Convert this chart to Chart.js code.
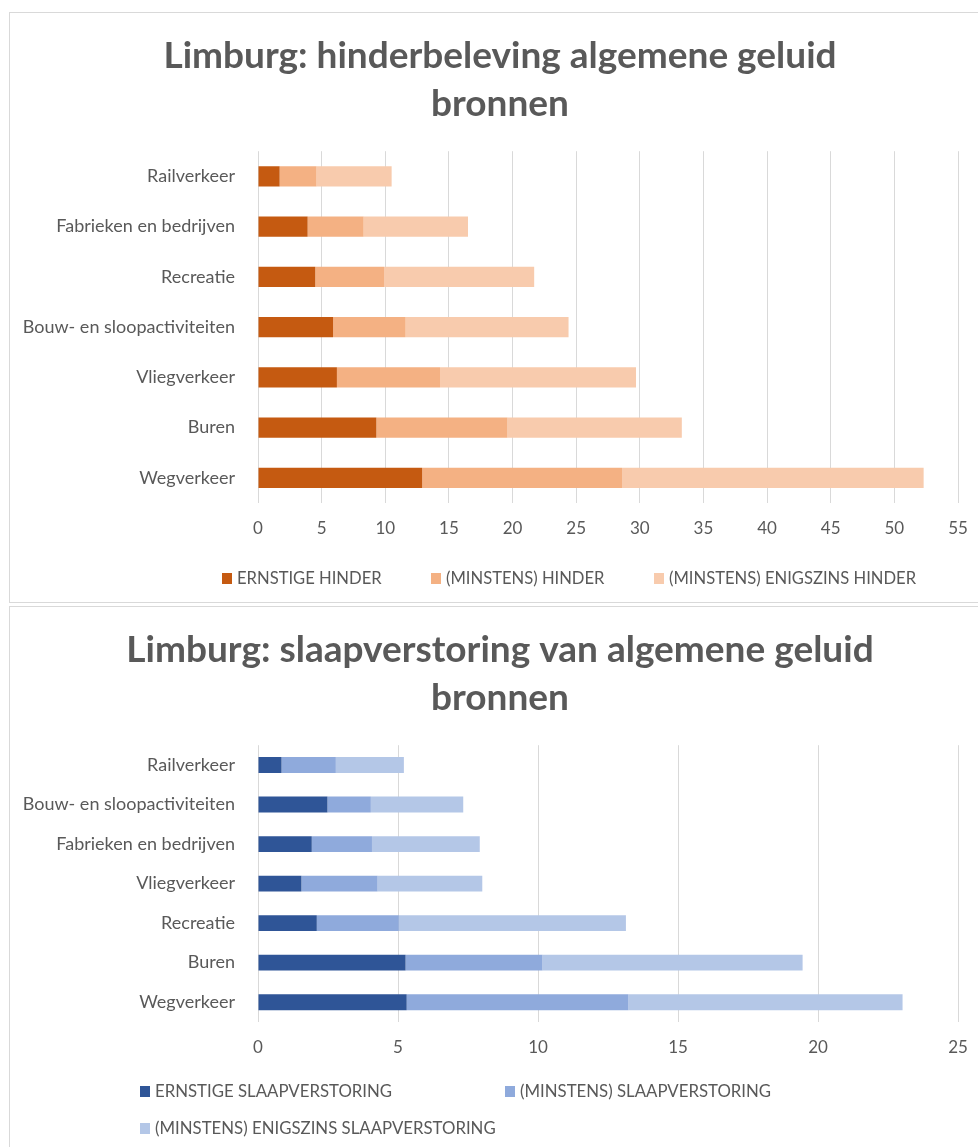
<!DOCTYPE html>
<html>
<head>
<meta charset="utf-8">
<script src="https://cdn.jsdelivr.net/npm/chart.js@4.4.0/dist/chart.umd.min.js"></script>
<style>
  body { margin: 0; background: #fff; overflow: hidden; }
  .box { position: absolute; left: 9px; width: 990px; border: 1px solid #D9D9D9; background: #fff; }
  #box1 { top: 12px; height: 589px; }
  #box2 { top: 606px; height: 560px; }
  canvas { position: absolute; left: 0; top: 0; }
</style>
</head>
<body>
<div class="box" id="box1"><canvas id="hinderChart" width="968" height="589"></canvas></div>
<div class="box" id="box2"><canvas id="slaapChart" width="968" height="540"></canvas></div>
<script>
//hinder data (top chart)
const hinderCats = ['Railverkeer', 'Fabrieken en bedrijven', 'Recreatie', 'Bouw- en sloopactiviteiten', 'Vliegverkeer', 'Buren', 'Wegverkeer'];
const ernstigeHinder = [1.7, 3.9, 4.5, 5.9, 6.2, 9.3, 12.9];
const minstensHinder = [2.9, 4.4, 5.4, 5.7, 8.1, 10.3, 15.7];
const enigszinsHinder = [5.9, 8.2, 11.8, 12.8, 15.4, 13.7, 23.7];
const hinderTicks = [0, 5, 10, 15, 20, 25, 30, 35, 40, 45, 50, 55];

//slaap data (bottom chart)
const slaapCats = ['Railverkeer', 'Bouw- en sloopactiviteiten', 'Fabrieken en bedrijven', 'Vliegverkeer', 'Recreatie', 'Buren', 'Wegverkeer'];
const ernstigeSlaap = [0.84, 2.48, 1.92, 1.55, 2.1, 5.27, 5.31];
const minstensSlaap = [1.94, 1.55, 2.15, 2.72, 2.93, 4.89, 7.92];
const enigszinsSlaap = [2.43, 3.3, 3.85, 3.74, 8.11, 9.29, 9.79];
const slaapTicks = [0, 5, 10, 15, 20, 25];

const textGrey = '#595959';
const gridGrey = '#D9D9D9';
const fontFam = 'Lato, "Open Sans", sans-serif';

//legend drawn in fixed columns, like the office chart
const colLegend = {
  id: 'colLegend',
  afterLayout(chart) {
    //title is centred on the whole frame, not only the padded part
    chart.titleBlock.left = 0;
    chart.titleBlock.right = 980;
  },
  afterDraw(chart, args, opts) {
    const ctx = chart.ctx;
    ctx.save();
    ctx.font = opts.size + 'px ' + fontFam;
    ctx.textBaseline = 'middle';
    chart.data.datasets.forEach((ds, i) => {
      const spot = opts.spots[i];
      const y = chart.chartArea.bottom + spot[1];
      ctx.fillStyle = ds.backgroundColor;
      ctx.fillRect(spot[0], y - 5, 10, 11);
      ctx.fillStyle = textGrey;
      ctx.fillText(ds.label, spot[0] + 15, y + 1);
    });
    ctx.restore();
  }
};

function makeConfig(title, cats, sets, ticks, bottomPad, spots, legendSize) {
  return {
    type: 'bar',
    data: {
      labels: cats,
      datasets: sets.map(s => ({
        label: s.label,
        data: s.data,
        backgroundColor: s.color,
        borderWidth: 0,
        barPercentage: 0.4,
        categoryPercentage: 1
      }))
    },
    options: {
      indexAxis: 'y',
      responsive: false,
      animation: false,
      layout: {
        padding: { left: 0, right: 20, top: 0, bottom: bottomPad }
      },
      scales: {
        x: {
          stacked: true,
          min: ticks[0],
          max: ticks[ticks.length - 1],
          afterBuildTicks: axis => { axis.ticks = ticks.map(v => ({ value: v })); },
          afterFit: axis => {
            axis.height = 40;
            axis.paddingLeft = 0;
            axis.paddingRight = 0;
          },
          grid: { color: gridGrey, lineWidth: 1, drawTicks: false },
          border: { display: false },
          ticks: { color: textGrey, padding: 15, font: { family: fontFam, size: 17 } }
        },
        y: {
          stacked: true,
          afterFit: axis => { axis.width = 248; },
          grid: { display: false, drawTicks: false },
          border: { display: false },
          ticks: { color: textGrey, padding: 23, font: { family: fontFam, size: 18 } }
        }
      },
      plugins: {
        title: {
          display: true,
          text: title,
          color: textGrey,
          font: { family: fontFam, size: 37, weight: 'bold', lineHeight: 1.3 },
          padding: { top: 19, bottom: 23 }
        },
        legend: { display: false },
        tooltip: { enabled: false },
        colLegend: { spots: spots, size: legendSize }
      }
    },
    plugins: [colLegend]
  };
}

new Chart(document.getElementById('hinderChart'), makeConfig(
  ['Limburg: hinderbeleving algemene geluid', 'bronnen'],
  hinderCats,
  [
    { label: 'ERNSTIGE HINDER', data: ernstigeHinder, color: '#C55A11' },
    { label: '(MINSTENS) HINDER', data: minstensHinder, color: '#F4B183' },
    { label: '(MINSTENS) ENIGSZINS HINDER', data: enigszinsHinder, color: '#F8CBAD' }
  ],
  hinderTicks, 59,
  [[212, 75], [421, 75], [644, 75]], 16.6
));

new Chart(document.getElementById('slaapChart'), makeConfig(
  ['Limburg: slaapverstoring van algemene geluid', 'bronnen'],
  slaapCats,
  [
    { label: 'ERNSTIGE SLAAPVERSTORING', data: ernstigeSlaap, color: '#2F5597' },
    { label: '(MINSTENS) SLAAPVERSTORING', data: minstensSlaap, color: '#8FAADC' },
    { label: '(MINSTENS) ENIGSZINS SLAAPVERSTORING', data: enigszinsSlaap, color: '#B4C7E7' }
  ],
  slaapTicks, 85,
  [[130, 69], [495, 69], [130, 106]], 16.8
));
</script>
</body>
</html>
